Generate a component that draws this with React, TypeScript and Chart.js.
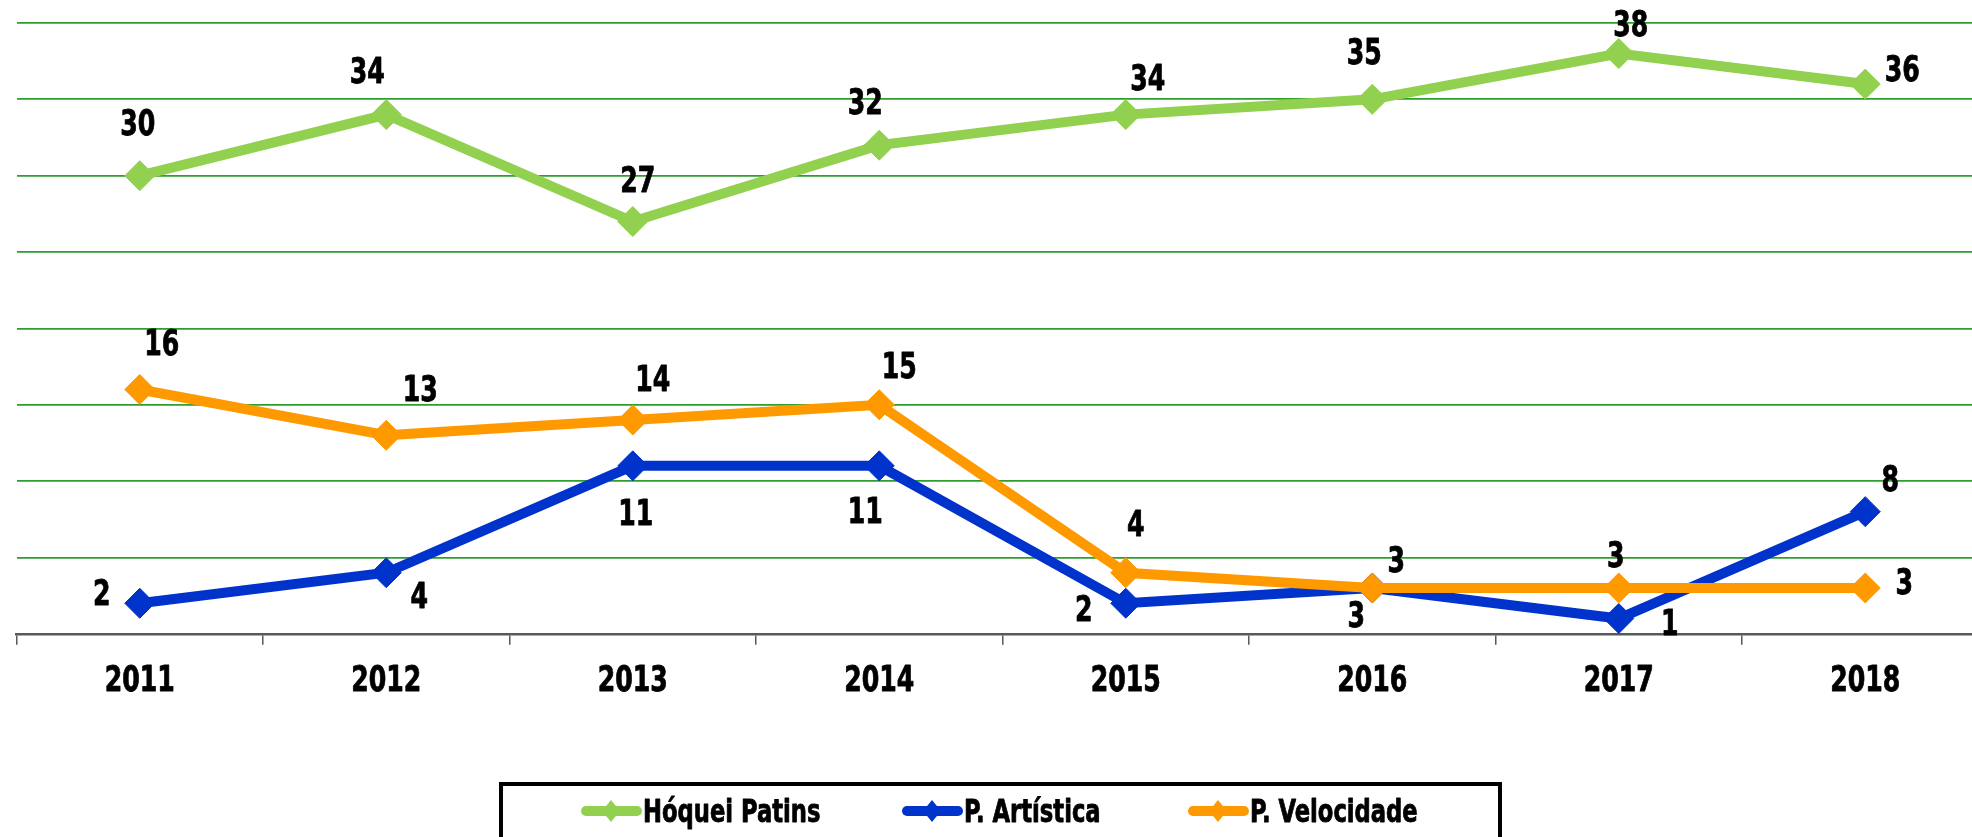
import React, { useEffect, useRef } from 'react';
import { Chart, registerables } from 'chart.js';

Chart.register(...registerables);

// ---- Data ----
const years = ['2011', '2012', '2013', '2014', '2015', '2016', '2017', '2018'];
const hoqueiPatins = [30, 34, 27, 32, 34, 35, 38, 36];
const pArtistica = [2, 4, 11, 11, 2, 3, 1, 8];
const pVelocidade = [16, 13, 14, 15, 4, 3, 3, 3];
const seriesNames = ['Hóquei Patins', 'P. Artística', 'P. Velocidade'];
const yMin = 0;
const yMax = 40;
const yStep = 5;

// ---- Label placement (pixel offsets from each point) ----
const hoqueiLabelOffsets = [[-2, -53], [-19, -44], [5, -42], [-14, -44], [22, -37], [-8, -48], [12, -30], [37, -16]];
const artisticaLabelOffsets = [[-38, -11], [33, 23], [3, 46], [-14, 44], [-42, 5], [-16, 26], [51, 4], [25, -33]];
const velocidadeLabelOffsets = [[22, -47], [34, -47], [20, -42], [20, -40], [10, -49], [24, -29], [-3, -34], [39, -7]];

// ---- Styles ----
const FONT = "'DejaVu Sans Condensed', 'Liberation Sans Narrow', sans-serif";
const SCALE_X = 0.8;
const colors = ['#92D050', '#0033CC', '#FF9900'];
const legendItemX = [581, 902, 1188];

function drawNarrowText(ctx: CanvasRenderingContext2D, text: string, x: number, y: number, size: number, align: CanvasTextAlign) {
  ctx.save();
  ctx.font = `bold ${size}px ${FONT}`;
  ctx.textAlign = align;
  ctx.textBaseline = 'alphabetic';
  ctx.translate(x, y + size * 0.729 / 2);
  ctx.scale(SCALE_X, 1);
  ctx.fillStyle = '#000000';
  ctx.strokeStyle = '#000000';
  ctx.lineWidth = 0.8;
  ctx.lineJoin = 'round';
  ctx.fillText(text, 0, 0);
  ctx.strokeText(text, 0, 0);
  ctx.restore();
}

const dataLabelPlugin = {
  id: 'dataLabels',
  afterDatasetsDraw(chart: any) {
    const ctx = chart.ctx;
    const offsets = [hoqueiLabelOffsets, artisticaLabelOffsets, velocidadeLabelOffsets];
    chart.data.datasets.forEach((ds: any, i: number) => {
      const meta = chart.getDatasetMeta(i);
      meta.data.forEach((el: any, j: number) => {
        const [dx, dy] = offsets[i][j];
        drawNarrowText(ctx, String(ds.data[j]), el.x + dx, el.y + dy, 35, 'center');
      });
    });
    // category labels
    const xs = chart.scales.x;
    years.forEach((yr, i) => {
      drawNarrowText(ctx, yr, xs.getPixelForTick(i), xs.top + 44.5, 35, 'center');
    });
  },
};

const legendPlugin = {
  id: 'boxLegend',
  afterDraw(chart: any) {
    const ctx = chart.ctx;
    ctx.save();
    ctx.strokeStyle = '#000000';
    ctx.lineWidth = 4;
    ctx.strokeRect(501, 784, 999, 120);
    const cy = 811;
    seriesNames.forEach((name, i) => {
      const x0 = legendItemX[i];
      ctx.strokeStyle = colors[i];
      ctx.lineWidth = 10;
      ctx.lineCap = 'round';
      ctx.beginPath();
      ctx.moveTo(x0 + 5, cy);
      ctx.lineTo(x0 + 56, cy);
      ctx.stroke();
      ctx.fillStyle = colors[i];
      ctx.beginPath();
      ctx.moveTo(x0 + 30, cy - 11);
      ctx.lineTo(x0 + 39, cy);
      ctx.lineTo(x0 + 30, cy + 11);
      ctx.lineTo(x0 + 21, cy);
      ctx.closePath();
      ctx.fill();
      drawNarrowText(ctx, name, x0 + 62, cy, 31.5, 'left');
    });
    ctx.restore();
  },
};

export default function App() {
  const canvasRef = useRef<HTMLCanvasElement | null>(null);

  useEffect(() => {
    if (!canvasRef.current) return;
    const seriesData = [hoqueiPatins, pArtistica, pVelocidade];
    const orders = [3, 2, 1];
    const chart = new Chart(canvasRef.current, {
      type: 'line',
      data: {
        labels: years,
        datasets: seriesNames.map((name, i) => ({
          label: name,
          data: seriesData[i],
          borderColor: colors[i],
          backgroundColor: colors[i],
          borderWidth: 10,
          pointStyle: 'rectRot',
          pointRadius: 15,
          pointBorderWidth: 1,
          pointBackgroundColor: colors[i],
          pointBorderColor: colors[i],
          tension: 0,
          fill: false,
          order: orders[i],
          clip: false,
        })),
      },
      options: {
        responsive: false,
        animation: false,
        devicePixelRatio: 1,
        layout: { padding: { left: 16.5, right: 21.5, top: 23, bottom: 127 } },
        plugins: {
          legend: { display: false },
          tooltip: { enabled: false },
        },
        scales: {
          x: {
            offset: true,
            grid: {
              offset: true,
              drawOnChartArea: false,
              drawTicks: true,
              tickLength: 11,
              color: '#595959',
              lineWidth: 1.5,
            },
            border: { display: true, color: '#595959', width: 2.5 },
            ticks: {
              color: 'rgba(0,0,0,0)',
              font: { family: FONT, size: 36, weight: 'bold' },
              padding: 11,
              maxRotation: 0,
              autoSkip: false,
            },
          },
          y: {
            min: yMin,
            max: yMax,
            ticks: { display: false, stepSize: yStep },
            grid: { drawTicks: false, color: '#2E9E2E', lineWidth: 1.8 },
            border: { display: false },
          },
        },
      },
      plugins: [dataLabelPlugin, legendPlugin],
    });
    return () => chart.destroy();
  }, []);

  return (
    <div style={{ position: 'absolute', left: 0, top: 0, width: 1972, height: 837, overflow: 'hidden', background: '#ffffff' }}>
      <canvas ref={canvasRef} width={2010} height={837} style={{ width: 2010, height: 837, display: 'block' }} />
    </div>
  );
}
